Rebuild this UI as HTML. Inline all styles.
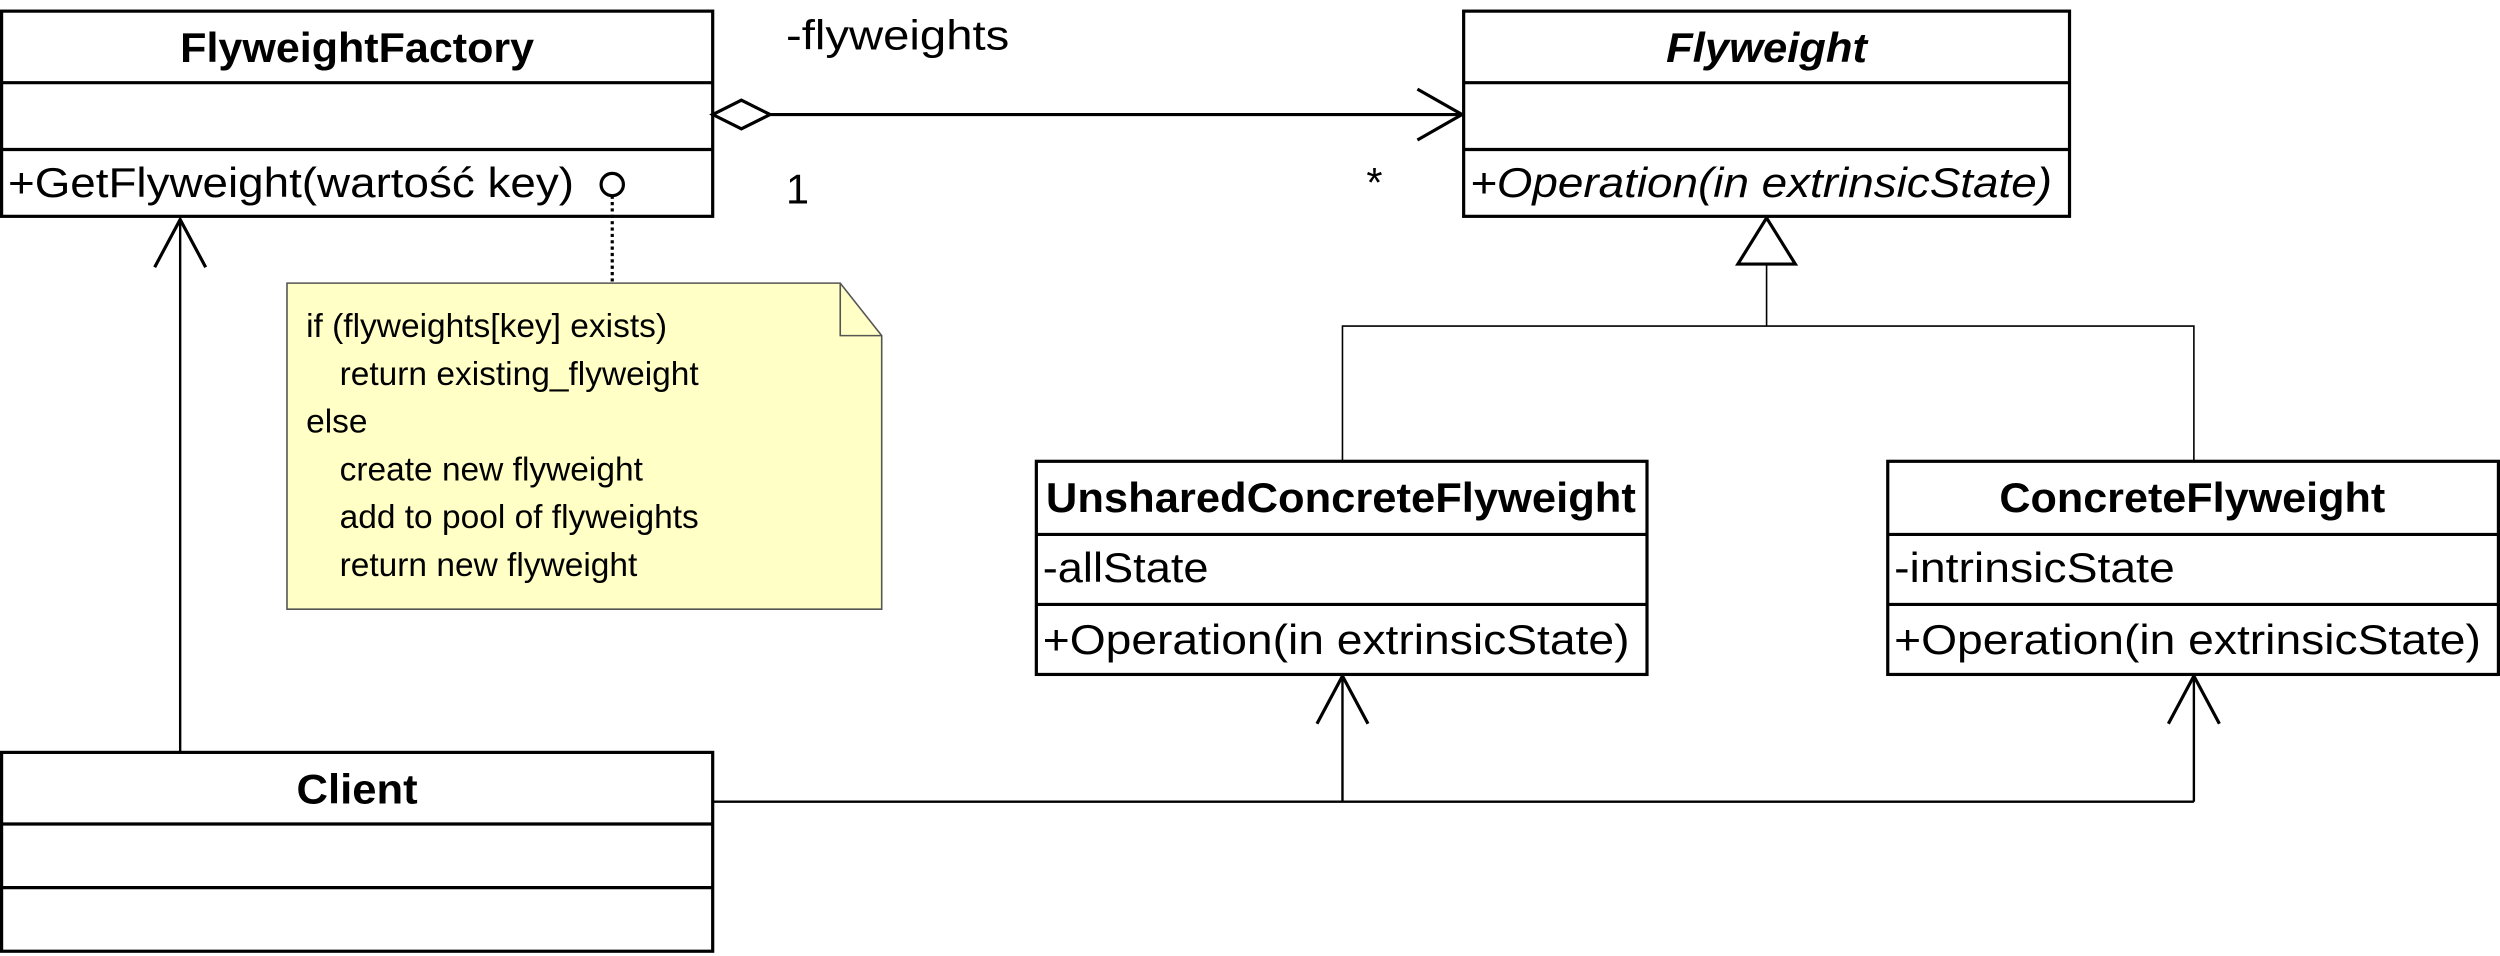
<!DOCTYPE html>
<html><head><meta charset="utf-8"><style>
html,body{margin:0;padding:0;background:#fff;}
svg{display:block;}
text{font-family:"Liberation Sans",sans-serif;fill:#000;}
</style></head><body>
<svg width="2500" height="956" viewBox="0 0 1568 601" preserveAspectRatio="none" xmlns="http://www.w3.org/2000/svg">
<g fill="#fff" stroke="#000" stroke-width="2">
<rect x="1" y="7" width="446" height="129"/>
<line x1="1" y1="52" x2="447" y2="52"/><line x1="1" y1="94" x2="447" y2="94"/>
<rect x="918" y="7" width="380" height="129"/>
<line x1="918" y1="52" x2="1298" y2="52"/><line x1="918" y1="94" x2="1298" y2="94"/>
<rect x="650" y="290" width="383" height="134"/>
<line x1="650" y1="336" x2="1033" y2="336"/><line x1="650" y1="380" x2="1033" y2="380"/>
<rect x="1184" y="290" width="383" height="134"/>
<line x1="1184" y1="336" x2="1567" y2="336"/><line x1="1184" y1="380" x2="1567" y2="380"/>
<rect x="1" y="473" width="446" height="125"/>
<line x1="1" y1="518" x2="447" y2="518"/><line x1="1" y1="558" x2="447" y2="558"/>
</g>
<path d="M180 178 H527 L553 211 V383 H180 Z" fill="#ffffc6" stroke="#555" stroke-width="1"/>
<path d="M527 178 V211 H553" fill="none" stroke="#555" stroke-width="1"/>
<line x1="384" y1="123" x2="384" y2="178" stroke="#000" stroke-width="2" stroke-dasharray="2,2"/>
<circle cx="384" cy="116" r="7" fill="#fff" stroke="#000" stroke-width="2"/>
<g fill="none" stroke="#000" stroke-width="2">
<path d="M447 72 L465 63 L483 72 L465 81 Z" fill="#fff"/>
<line x1="483" y1="72" x2="917" y2="72"/>
<polyline points="889,56 917,72 889,88"/>
<path d="M1108 137 L1126 166 H1090 Z" fill="#fff"/>
</g>
<g fill="none" stroke="#000" stroke-width="1">
<line x1="1108" y1="166" x2="1108" y2="205"/>
<polyline points="842,290 842,205 1376,205 1376,290"/>
</g>
<g fill="none" stroke="#000" stroke-width="1.5">
<line x1="113" y1="473" x2="113" y2="138"/>
<polyline points="97,168 113,138 129,168" stroke-width="2"/>
<line x1="447" y1="504" x2="1376" y2="504"/>
<line x1="842" y1="504" x2="842" y2="425"/>
<line x1="1376" y1="504" x2="1376" y2="425"/>
<polyline points="826,455 842,425 858,455" stroke-width="2"/>
<polyline points="1360,455 1376,425 1392,455" stroke-width="2"/>
</g>
<g font-size="26" lengthAdjust="spacingAndGlyphs">
<text x="224" y="39" text-anchor="middle" font-weight="bold" textLength="222" lengthAdjust="spacingAndGlyphs">FlyweightFactory</text>
<text x="5" y="124" textLength="355" lengthAdjust="spacingAndGlyphs">+GetFlyweight(wartość key)</text>
<text x="1108" y="39" text-anchor="middle" font-weight="bold" font-style="italic" textLength="126" lengthAdjust="spacingAndGlyphs">Flyweight</text>
<text x="922" y="124" font-style="italic" textLength="365" lengthAdjust="spacingAndGlyphs">+Operation(in extrinsicState)</text>
<text x="841" y="322" text-anchor="middle" font-weight="bold" textLength="370" lengthAdjust="spacingAndGlyphs">UnsharedConcreteFlyweight</text>
<text x="654" y="366" textLength="104" lengthAdjust="spacingAndGlyphs">-allState</text>
<text x="654" y="411" textLength="368" lengthAdjust="spacingAndGlyphs">+Operation(in extrinsicState)</text>
<text x="1375" y="322" text-anchor="middle" font-weight="bold" textLength="242" lengthAdjust="spacingAndGlyphs">ConcreteFlyweight</text>
<text x="1188" y="366" textLength="176" lengthAdjust="spacingAndGlyphs">-intrinsicState</text>
<text x="1188" y="411" textLength="368" lengthAdjust="spacingAndGlyphs">+Operation(in extrinsicState)</text>
<text x="224" y="505" text-anchor="middle" font-weight="bold" textLength="76" lengthAdjust="spacingAndGlyphs">Client</text>
<text x="493" y="31" textLength="140" lengthAdjust="spacingAndGlyphs">-flyweights</text>
<text x="493" y="128">1</text>
<text x="857" y="124">*</text>
</g>
<g font-size="21">
<text x="192" y="212">if (flyweights[key] exists)</text>
<text x="213" y="242">return existing_flyweight</text>
<text x="192" y="272">else</text>
<text x="213" y="302">create new flyweight</text>
<text x="213" y="332">add to pool of flyweights</text>
<text x="213" y="362">return new flyweight</text>
</g>
</svg>
</body></html>
